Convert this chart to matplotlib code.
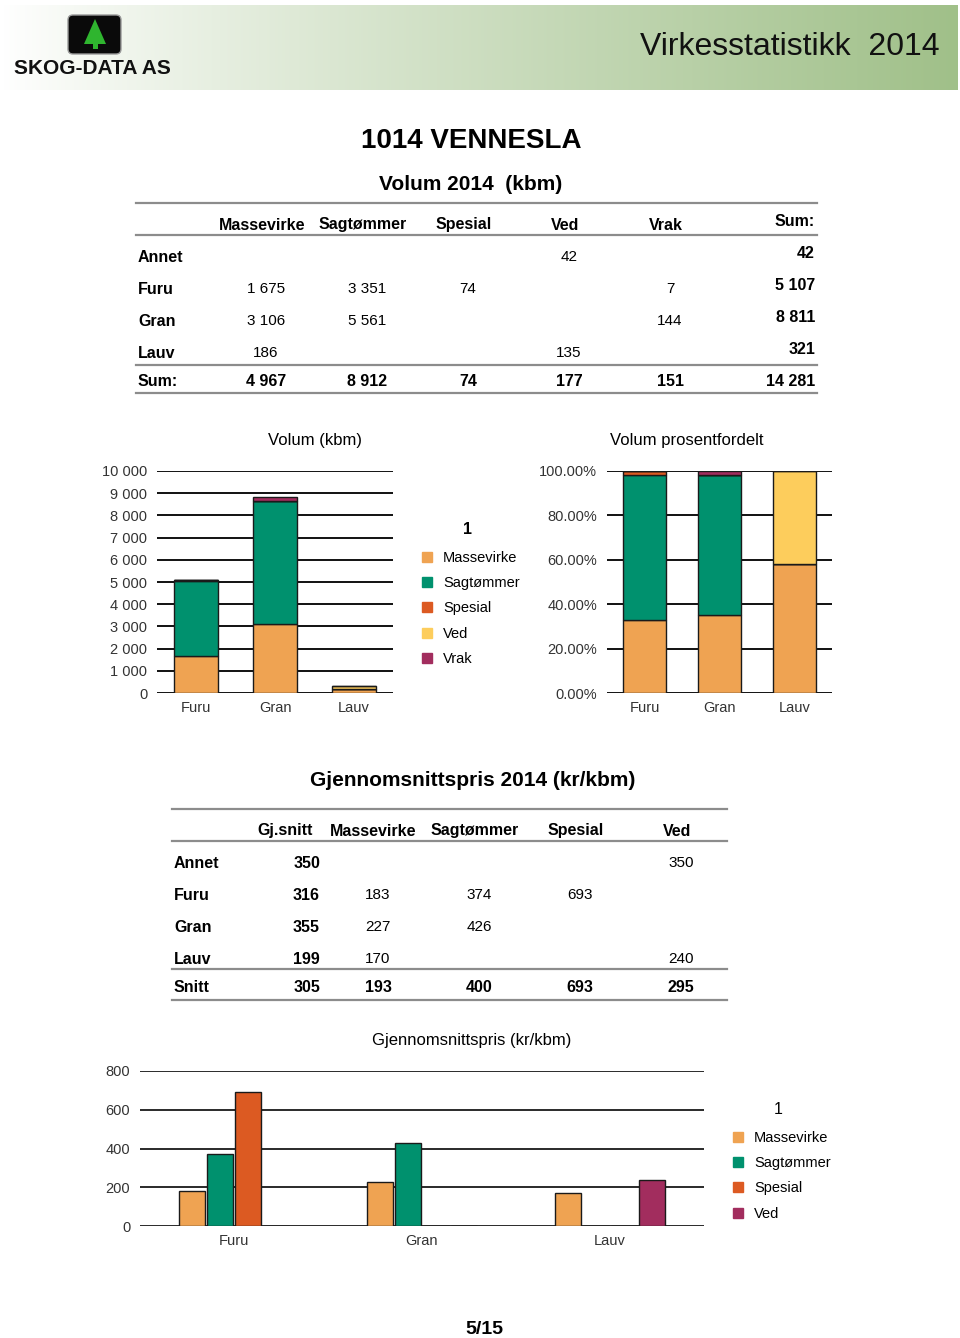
import numpy as np
import matplotlib
matplotlib.use("Agg")
import matplotlib.pyplot as plt
from matplotlib.lines import Line2D
from matplotlib.patches import Rectangle, FancyBboxPatch, Polygon

plt.rcParams['font.family'] = ['Liberation Sans', 'DejaVu Sans']

# ---- data ----
rader = ["Annet", "Furu", "Gran", "Lauv"]
sortiment = ["Massevirke", "Sagtømmer", "Spesial", "Ved", "Vrak"]
vol_masse = [None, 1675, 3106, 186]
vol_sag = [None, 3351, 5561, None]
vol_spes = [None, 74, None, None]
vol_ved = [42, None, None, 135]
vol_vrak = [None, 7, 144, None]

pris_kolonner = ["Gj.snitt", "Massevirke", "Sagtømmer", "Spesial", "Ved"]
pris_rader = ["Annet", "Furu", "Gran", "Lauv", "Snitt"]
pris_snitt = [350, 316, 355, 199, 305]
pris_masse = [None, 183, 227, 170, 193]
pris_sag = [None, 374, 426, None, 400]
pris_spes = [None, 693, None, None, 693]
pris_ved = [350, None, None, 240, 295]

treslag = ["Furu", "Gran", "Lauv"]
farger = {"Massevirke": "#EFA352", "Sagtømmer": "#00916E", "Spesial": "#DC5A22",
          "Ved": "#FDCD5C", "Vrak": "#A22D5E"}
farger_pris = {"Massevirke": "#EFA352", "Sagtømmer": "#00916E", "Spesial": "#DC5A22",
               "Ved": "#A22D5E"}

W, H = 960, 1338
fig = plt.figure(figsize=(W / 100, H / 100), dpi=100)


def px(x, y):
    return x / W, 1 - y / H


def tekst(x, y, s, **kw):
    # +2 px: matplotlib centres a bit higher than the reference
    fig.text(*px(x, y + 2), s, **kw)


def linje(x0, x1, y, c="#8c8c8c", lw=1.6):
    fig.add_artist(Line2D([x0 / W, x1 / W], [1 - y / H, 1 - y / H], color=c, lw=lw))


def fmt(v):
    return "" if v is None else f"{v:,}".replace(",", " ")


def n(v):
    return 0 if v is None else v


# ---- header ----
hax = fig.add_axes([3 / W, 1 - 90 / H, 954 / W, 85 / H])
t = np.linspace(0, 1, 400) ** 0.9
c0 = np.array([1.0, 1.0, 1.0])
c1 = np.array([160, 192, 137]) / 255
grad = c0[None, :] * (1 - t[:, None]) + c1[None, :] * t[:, None]
hax.imshow(grad[None, :, :], aspect="auto", extent=[3, 957, 90, 5])
hax.set_xlim(3, 957)
hax.set_ylim(90, 5)
hax.axis("off")
hax.add_patch(FancyBboxPatch((68, 15), 53, 39, boxstyle="round,pad=0,rounding_size=5",
                             fc="#0a0a0a", ec="#999999", lw=1))
hax.add_patch(Polygon([(95, 19), (84, 44), (106, 44)], closed=True, fc="#2fb52f", ec="none"))
hax.add_patch(Rectangle((92.5, 44), 5, 5, fc="#2fb52f", ec="none"))
hax.text(14, 68, "SKOG-DATA AS", fontsize=15, fontweight="bold", va="center", ha="left",
         color="#111111")
hax.text(940, 47, "Virkesstatistikk  2014", fontsize=23, va="center", ha="right",
         color="#111111")

# ---- titles ----
tekst(471, 139, "1014 VENNESLA", fontsize=20, fontweight="bold", ha="center", va="center")
tekst(471, 182, "Volum 2014  (kbm)", fontsize=15, fontweight="bold", ha="center", va="center")

# ---- volume table ----
vol_serier = [vol_masse, vol_sag, vol_spes, vol_ved, vol_vrak]
kol_x = [262, 363, 464, 565, 666]
linje(136, 817, 203)
linje(136, 817, 235)
linje(136, 817, 365)
linje(136, 817, 393)
for name, x in zip(sortiment, kol_x):
    tekst(x, 223, name, fontsize=11.5, fontweight="bold", ha="center", va="center")
tekst(815, 219, "Sum:", fontsize=11.5, fontweight="bold", ha="right", va="center")
rad_y = [255, 287, 319, 351]
for i, (r, y) in enumerate(zip(rader, rad_y)):
    tekst(138, y, r, fontsize=11.5, fontweight="bold", ha="left", va="center")
    for serie, x in zip(vol_serier, kol_x):
        tekst(x + 4, y, fmt(serie[i]), fontsize=11, ha="center", va="center")
    tekst(815, y - 4, fmt(sum(n(s[i]) for s in vol_serier)), fontsize=11.5,
          fontweight="bold", ha="right", va="center")
tekst(138, 379, "Sum:", fontsize=11.5, fontweight="bold", ha="left", va="center")
for serie, x in zip(vol_serier, kol_x):
    tekst(x + 4, 379, fmt(sum(n(v) for v in serie)), fontsize=11.5, fontweight="bold",
          ha="center", va="center")
tekst(815, 379, fmt(sum(n(v) for s in vol_serier for v in s)), fontsize=11.5,
      fontweight="bold", ha="right", va="center")


def stil(ax, gridc="#111111"):
    for s in ax.spines.values():
        s.set_visible(False)
    ax.tick_params(length=0, labelsize=10.5, labelcolor="#333333")
    ax.tick_params(axis="y", pad=7)
    ax.tick_params(axis="x", pad=6)
    ax.yaxis.grid(True, color=gridc, lw=1.4)
    ax.set_axisbelow(True)


# ---- stacked volume chart ----
idx = [rader.index(t_) for t_ in treslag]
x = np.arange(len(treslag))
ax1 = fig.add_axes([157 / W, 1 - 693 / H, 236 / W, 222 / H])
bunn = np.zeros(len(treslag))
for name, serie in zip(sortiment, vol_serier):
    v = np.array([n(serie[i]) for i in idx], dtype=float)
    ax1.bar(x, v, 0.56, bottom=bunn, color=farger[name], edgecolor="#1a1a1a", lw=1, zorder=3)
    bunn += v
ax1.set_xlim(-0.5, 2.5)
ax1.set_ylim(0, 10000)
ax1.set_yticks(range(0, 10001, 1000))
ax1.set_yticklabels([fmt(v) for v in range(0, 10001, 1000)])
ax1.set_xticks(x)
ax1.set_xticklabels(treslag)
stil(ax1)
tekst(315, 439, "Volum (kbm)", fontsize=12, ha="center", va="center")

# ---- percent chart ----
ax2 = fig.add_axes([607 / W, 1 - 693 / H, 225 / W, 222 / H])
tot = bunn.copy()
bunn = np.zeros(len(treslag))
for name, serie in zip(sortiment, vol_serier):
    v = np.array([n(serie[i]) for i in idx], dtype=float) / tot * 100
    ax2.bar(x, v, 0.57, bottom=bunn, color=farger[name], edgecolor="#1a1a1a", lw=1, zorder=3)
    bunn += v
ax2.set_xlim(-0.5, 2.5)
ax2.set_ylim(0, 100)
ax2.set_yticks(range(0, 101, 20))
ax2.set_yticklabels([f"{v:.2f}%" for v in range(0, 101, 20)])
ax2.set_xticks(x)
ax2.set_xticklabels(treslag)
stil(ax2)
tekst(687, 439, "Volum prosentfordelt", fontsize=12, ha="center", va="center")

# legend 1
tekst(467, 528, "1", fontsize=11.5, fontweight="bold", ha="center", va="center")
for k, name in enumerate(sortiment):
    y = 556 + k * 25.2
    fig.add_artist(Rectangle(px(422, y + 6), 10 / W, 10 / H, color=farger[name],
                             transform=fig.transFigure))
    tekst(443, y, name, fontsize=10.5, ha="left", va="center")

# ---- price table ----
tekst(473, 778, "Gjennomsnittspris 2014 (kr/kbm)", fontsize=15, fontweight="bold",
      ha="center", va="center")
linje(172, 727, 809)
linje(172, 727, 841)
linje(172, 727, 969)
linje(172, 727, 1000)
hode_x = [285, 373, 475, 576, 677]
for name, xx in zip(pris_kolonner, hode_x):
    tekst(xx, 829, name, fontsize=11.5, fontweight="bold", ha="center", va="center")
pris_serier = [pris_masse, pris_sag, pris_spes, pris_ved]
verdi_x = [378, 479, 580, 681]
rad_y2 = [861, 893, 925, 957, 985]
for i, (r, y) in enumerate(zip(pris_rader, rad_y2)):
    siste = i == len(pris_rader) - 1
    tekst(174, y, r, fontsize=11.5, fontweight="bold", ha="left", va="center")
    tekst(320, y, fmt(pris_snitt[i]), fontsize=11.5, fontweight="bold", ha="right",
          va="center")
    for serie, xx in zip(pris_serier, verdi_x):
        tekst(xx, y, fmt(serie[i]), fontsize=11.5 if siste else 11,
              fontweight="bold" if siste else "normal", ha="center", va="center")

# ---- price chart ----
ax3 = fig.add_axes([140 / W, 1 - 1226 / H, 564 / W, 155 / H])
pris_navn = ["Massevirke", "Sagtømmer", "Spesial", "Ved"]
for k, (name, serie) in enumerate(zip(pris_navn, pris_serier)):
    v = [n(serie[i]) for i in idx]
    ax3.bar(x + (k - 1.5) * 0.149, v, 0.138, color=farger_pris[name], edgecolor="#1a1a1a",
            lw=1, zorder=3)
ax3.set_xlim(-0.5, 2.5)
ax3.set_ylim(0, 800)
ax3.set_yticks(range(0, 801, 200))
ax3.set_xticks(x)
ax3.set_xticklabels(treslag)
stil(ax3, gridc="#2a2a2a")
tekst(472, 1039, "Gjennomsnittspris (kr/kbm)", fontsize=12, ha="center", va="center")

# legend 2
tekst(778, 1108, "1", fontsize=11.5, ha="center", va="center")
for k, name in enumerate(pris_navn):
    y = 1136 + k * 25.2
    fig.add_artist(Rectangle(px(733, y + 6), 10 / W, 10 / H, color=farger_pris[name],
                             transform=fig.transFigure))
    tekst(754, y, name, fontsize=10.5, ha="left", va="center")

tekst(484, 1328, "5/15", fontsize=14, fontweight="bold", ha="center", va="center")

fig.savefig("out.png", dpi=100)
